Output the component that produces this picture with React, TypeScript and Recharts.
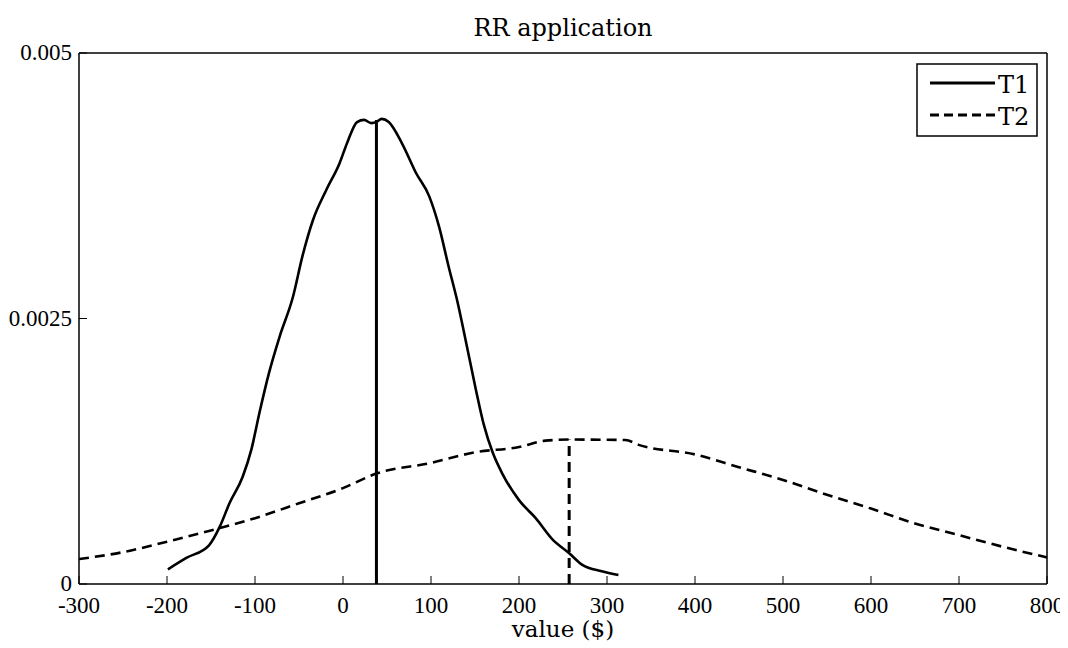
import React from 'react';
import { LineChart, Line, XAxis, YAxis } from 'recharts';

// T1 simulated density (value, density)
const t1X = [-199, -178, -152, -140, -129, -114, -104, -95, -84, -72, -57, -46, -34, -19, -4, 5, 16, 24, 32, 38, 44, 52, 67, 83, 98, 109, 120, 130, 140, 151, 160, 170, 181, 200, 219, 238, 257, 272, 294, 313];
const t1Y = [0.000138, 0.000245, 0.000367, 0.00054, 0.00076, 0.00101, 0.00127, 0.00161, 0.00199, 0.00233, 0.0027, 0.00309, 0.00343, 0.00371, 0.00396, 0.00416, 0.00435, 0.00437, 0.00434, 0.00435, 0.00438, 0.00435, 0.00415, 0.00387, 0.00365, 0.00337, 0.00299, 0.00266, 0.00227, 0.00183, 0.00150, 0.00124, 0.00104, 0.00079, 0.00062, 0.00042, 0.00029, 0.00018, 0.00012, 0.000085];

// T2 simulated density
const t2X = [-300, -250, -200, -140, -100, -50, 0, 38, 100, 150, 200, 230, 257, 321, 336, 400, 450, 500, 550, 600, 650, 700, 750, 800];
const t2Y = [0.000235, 0.0003, 0.000398, 0.000527, 0.00062, 0.00076, 0.000903, 0.00104, 0.00114, 0.00124, 0.00129, 0.00135, 0.00136, 0.001356, 0.00131, 0.00122, 0.0011, 0.00098, 0.00084, 0.00071, 0.00057, 0.00046, 0.00035, 0.00025];

// mean markers
const meanX = [38, 257];
const meanY = [0.00437, 0.00136];

const seriesNames = ['T1', 'T2'];
const xTicks = [-300, -200, -100, 0, 100, 200, 300, 400, 500, 600, 700, 800];
const yTicks = [0, 0.0025, 0.005];

const t1Data = t1X.map((x, i) => ({ x, y: t1Y[i] }));
const t2Data = t2X.map((x, i) => ({ x, y: t2Y[i] }));
const t1Mean = [{ x: meanX[0], y: 0 }, { x: meanX[0], y: meanY[0] }];
const t2Mean = [{ x: meanX[1], y: 0 }, { x: meanX[1], y: meanY[1] }];

const W = 1060;
const H = 640;
const tickFamily = '"Liberation Serif", serif';
const labelFont = '"DejaVu Serif", serif';
const axisLine = { stroke: '#000', strokeWidth: 1.5 };
const tickLine = { stroke: '#000', strokeWidth: 1 };
const noLabel = () => '';

const XTick = ({ x, y, payload }: any) => (
  <text x={x} y={y} dy={16} textAnchor="middle" fontFamily={tickFamily} fontSize={23} fill="#000">
    {payload.value}
  </text>
);

const YTick = ({ x, y, payload }: any) => (
  <text x={x} y={y} dy={7} textAnchor="end" fontFamily={tickFamily} fontSize={23} fill="#000">
    {String(payload.value)}
  </text>
);

export default function App() {
  return (
    <div style={{ position: 'relative', width: W, height: H }}>
      <LineChart width={W} height={H} margin={{ top: 44, right: 20, bottom: 0, left: 0 }}>
        <XAxis
          xAxisId="b"
          dataKey="x"
          type="number"
          domain={[-300, 800]}
          ticks={xTicks}
          allowDataOverflow
          height={64}
          tickSize={-8}
          tickMargin={21}
          tick={<XTick />}
          axisLine={axisLine}
          tickLine={tickLine}
        />
        <XAxis
          xAxisId="t"
          orientation="top"
          dataKey="x"
          type="number"
          domain={[-300, 800]}
          ticks={xTicks}
          height={1}
          tickSize={-8}
          tickFormatter={noLabel}
          axisLine={axisLine}
          tickLine={tickLine}
        />
        <YAxis
          yAxisId="l"
          type="number"
          domain={[0, 0.005]}
          ticks={yTicks}
          width={71}
          tickSize={-8}
          tickMargin={15}
          tick={<YTick />}
          axisLine={axisLine}
          tickLine={tickLine}
        />
        <YAxis
          yAxisId="r"
          orientation="right"
          type="number"
          domain={[0, 0.005]}
          ticks={yTicks}
          width={1}
          tickSize={-8}
          tickFormatter={noLabel}
          axisLine={axisLine}
          tickLine={tickLine}
        />
        <Line
          xAxisId="b" yAxisId="l" data={t2Data} dataKey="y" type="monotone"
          stroke="#000" strokeWidth={2.6} strokeDasharray="10 6" dot={false} isAnimationActive={false}
        />
        <Line
          xAxisId="b" yAxisId="l" data={t1Data} dataKey="y" type="monotone"
          stroke="#000" strokeWidth={2.6} dot={false} isAnimationActive={false}
        />
        <Line
          xAxisId="b" yAxisId="l" data={t1Mean} dataKey="y" type="linear"
          stroke="#000" strokeWidth={3} dot={false} isAnimationActive={false}
        />
        <Line
          xAxisId="b" yAxisId="l" data={t2Mean} dataKey="y" type="linear"
          stroke="#000" strokeWidth={3} strokeDasharray="10 6" dot={false} isAnimationActive={false}
        />
      </LineChart>

      {/* title, axis label and legend box */}
      <svg width={W} height={H} style={{ position: 'absolute', left: 0, top: 0, pointerEvents: 'none' }}>
        <text x={555} y={28} textAnchor="middle" fontFamily={labelFont} fontSize={24} fill="#000">RR application</text>
        <text x={555} y={629} textAnchor="middle" fontFamily={labelFont} fontSize={23} fill="#000">value ($)</text>
        <rect x={909} y={56} width={120} height={72} fill="#fff" stroke="#000" strokeWidth={1.5} />
        <line x1={922} x2={987} y1={75} y2={75} stroke="#000" strokeWidth={3} />
        <text x={990} y={85} fontFamily={labelFont} fontSize={24} fill="#000">{seriesNames[0]}</text>
        <line x1={922} x2={987} y1={107} y2={107} stroke="#000" strokeWidth={3} strokeDasharray="9 5" />
        <text x={990} y={117} fontFamily={labelFont} fontSize={24} fill="#000">{seriesNames[1]}</text>
      </svg>
    </div>
  );
}
